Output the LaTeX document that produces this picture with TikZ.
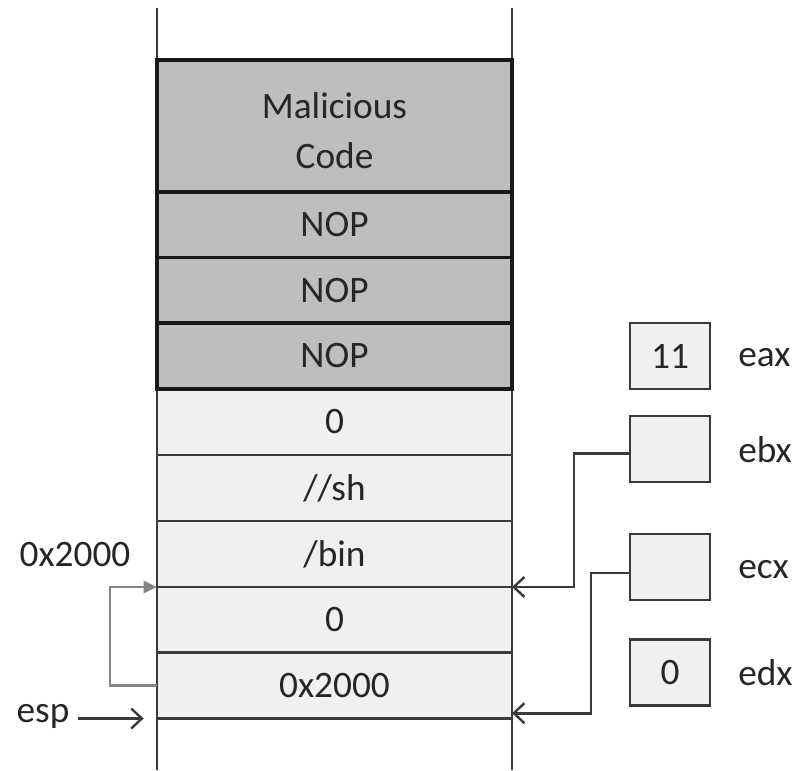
\documentclass[tikz,border=0pt]{standalone}
\usepackage{fontspec}
\setmainfont{Carlito}
\usetikzlibrary{arrows.meta}
\definecolor{codefill}{HTML}{BEBEBE}
\definecolor{cellfill}{HTML}{F0F0F0}
\definecolor{linecol}{HTML}{3A3A3A}
\definecolor{ptrgray}{HTML}{858585}
\tikzset{
  lbl/.style={font=\fontsize{28}{34}\selectfont, text=black!85, inner sep=0pt},
  darkcell/.style={lbl, draw=black!90, line width=2.6pt, fill=codefill,
    minimum width=266.25pt, outer sep=0pt, align=center},
  lightcell/.style={lbl, draw=linecol, line width=1.6pt, fill=cellfill,
    minimum width=266.25pt, minimum height=49.5pt, outer sep=0pt},
  regbox/.style={lbl, draw=linecol, line width=2pt, fill=cellfill,
    minimum width=60pt, minimum height=49.5pt, outer sep=0pt},
  wall/.style={draw=linecol, line width=2.2pt},
  link/.style={draw=linecol, line width=2pt, -{Straight Barb[length=8pt,width=15pt,line width=1.8pt]}},
  graylink/.style={draw=ptrgray, line width=2pt, -{Triangle[length=10pt,width=9pt]}}
}
\begin{document}
\begin{tikzpicture}[x=0.75pt,y=-0.75pt]
\useasboundingbox (0,0) rectangle (805,770);

% stack walls
\draw[wall] (157,8) -- (157,770);
\draw[wall] (512,8) -- (512,770);

% light stack cells (bottom part)
\node[lightcell] (z1)   at (334.5,422) {0};
\node[lightcell] (sh)   at (334.5,488) {//sh};
\node[lightcell] (bin)  at (334.5,554) {/bin};
\node[lightcell] (z2)   at (334.5,620) {0};
\node[lightcell] (addr) at (334.5,685.5) {0x2000};

% injected code cells
\node[darkcell, minimum height=99pt] (mc) at (334.5,126) {\rule{0pt}{26pt}Malicious\\[3.5pt]Code};
\node[darkcell, minimum height=49.5pt] (nop1) at (334.5,225) {NOP};
\node[darkcell, minimum height=49.5pt] (nop2) at (334.5,290.5) {NOP};
\node[darkcell, minimum height=49.5pt] (nop3) at (334.5,356) {NOP};

% registers
\node[regbox] (eax) at (670,356) {11};
\node[regbox] (ebx) at (670,449) {};
\node[regbox] (ecx) at (670,567) {};
\node[regbox] (edx) at (670,672.5) {0};
\node[lbl, anchor=west] (eaxl) at (738,358) {eax};
\node[lbl, anchor=west] (ebxl) at (738,450) {ebx};
\node[lbl, anchor=west] (ecxl) at (738,570) {ecx};
\node[lbl, anchor=west] (edxl) at (738,673) {edx};

% register pointers into the stack
\draw[link] ([yshift=-3.5pt]ebx.west) -- ++(-56,0) |- (bin.south east);
\draw[link] ([yshift=-4.5pt]ecx.west) -- ++(-39,0) |- ([yshift=4pt]addr.south east);

% address labels on the left
\node[lbl] (addrl) at (75,555) {0x2000};
\node[lbl] (esp) at (43,716) {esp};
\draw[graylink] (addr.west) -- ++(-47,0) |- (bin.south west);
\draw[link] ([xshift=6pt]esp.east |- addr.south west) -- ([xshift=-10pt]addr.south west);
\end{tikzpicture}
\end{document}
